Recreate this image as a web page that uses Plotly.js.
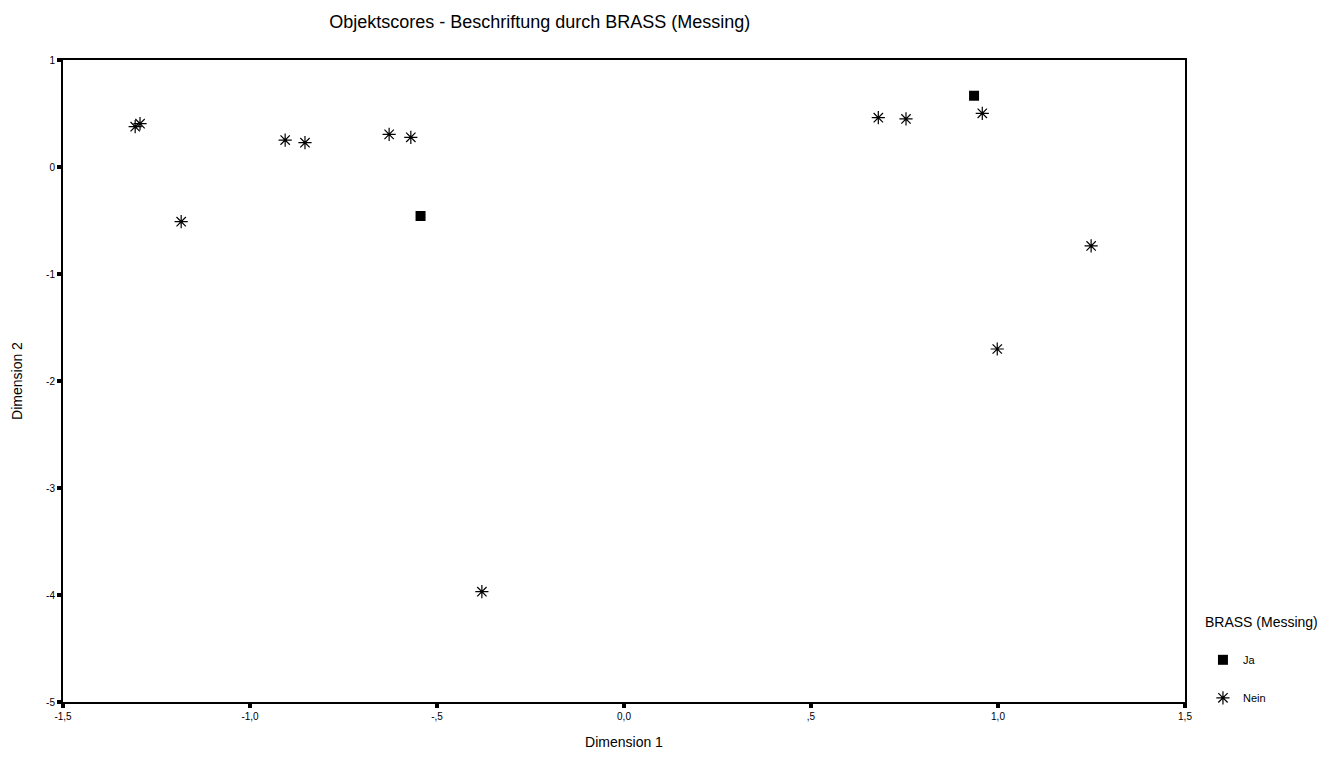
<!DOCTYPE html>
<html>
<head>
<meta charset="utf-8">
<script src="https://cdn.plot.ly/plotly-3.0.1.min.js"></script>
<style>html,body{margin:0;padding:0;background:#fff;}#chart{width:1336px;height:778px;}</style>
</head>
<body>
<div id="chart"></div>
<script>
// Data
const jaX = [-0.544, 0.936];
const jaY = [-0.458, 0.666];
const neinX = [-1.307, -1.294, -0.906, -0.853, -0.628, -0.570, -1.184, 0.680, 0.754, 0.958, 1.249, 0.998, -0.380];
const neinY = [0.377, 0.405, 0.252, 0.227, 0.305, 0.277, -0.511, 0.461, 0.449, 0.502, -0.738, -1.701, -3.969];
const xTickVals = [-1.5, -1.0, -0.5, 0.0, 0.5, 1.0, 1.5];
const xTickText = ["-1,5", "-1,0", "-,5", "0,0", ",5", "1,0", "1,5"];
const yTickVals = [1, 0, -1, -2, -3, -4, -5];
const yTickText = ["1", "0", "-1", "-2", "-3", "-4", "-5"];

const font = "Liberation Sans, Arial, sans-serif";

const traces = [
  {
    x: jaX, y: jaY, name: "Ja", type: "scatter", mode: "markers",
    legendgroup: "ja",
    marker: {symbol: "square", size: 10, color: "#000"},
    cliponaxis: false
  },
  {
    x: neinX, y: neinY, name: "Nein", type: "scatter", mode: "markers",
    legendgroup: "nein",
    marker: {symbol: "asterisk-open", size: 11, color: "#000", line: {color: "#000", width: 1.2}},
    cliponaxis: false
  }
];

const layout = {
  width: 1336, height: 778,
  margin: {l: 63, r: 151, t: 60, b: 76},
  paper_bgcolor: "#fff", plot_bgcolor: "#fff",
  font: {family: font, color: "#000", size: 10},
  title: {text: "Objektscores - Beschriftung durch BRASS (Messing)", font: {family: font, size: 18, color: "#000"}, x: 0.404, xanchor: "center", y: 0.972, yanchor: "middle"},
  xaxis: {
    range: [-1.5, 1.5], tickvals: xTickVals, ticktext: xTickText,
    showgrid: false, zeroline: false, showline: true, linecolor: "#000", linewidth: 2, mirror: true,
    ticks: "outside", ticklen: 4, tickwidth: 4, tickcolor: "#000",
    tickfont: {size: 10, family: font},
    title: {text: "Dimension 1", font: {size: 14, family: font}, standoff: 16}
  },
  yaxis: {
    range: [-5, 1], tickvals: yTickVals, ticktext: yTickText,
    showgrid: false, zeroline: false, showline: true, linecolor: "#000", linewidth: 2, mirror: true,
    ticks: "outside", ticklen: 4, tickwidth: 4, tickcolor: "#000",
    tickfont: {size: 10, family: font},
    title: {text: "Dimension 2", font: {size: 14, family: font}, standoff: 20}
  },
  legend: {
    x: 1.016, xanchor: "left", y: 0.145, yanchor: "top",
    title: {text: "BRASS (Messing)<br> ", font: {size: 14, family: font}},
    font: {size: 11, family: font},
    traceorder: "grouped", tracegroupgap: 19,
    bgcolor: "rgba(0,0,0,0)"
  },
  showlegend: true
};

Plotly.newPlot("chart", traces, layout, {displayModeBar: false, staticPlot: true});
</script>
</body>
</html>
